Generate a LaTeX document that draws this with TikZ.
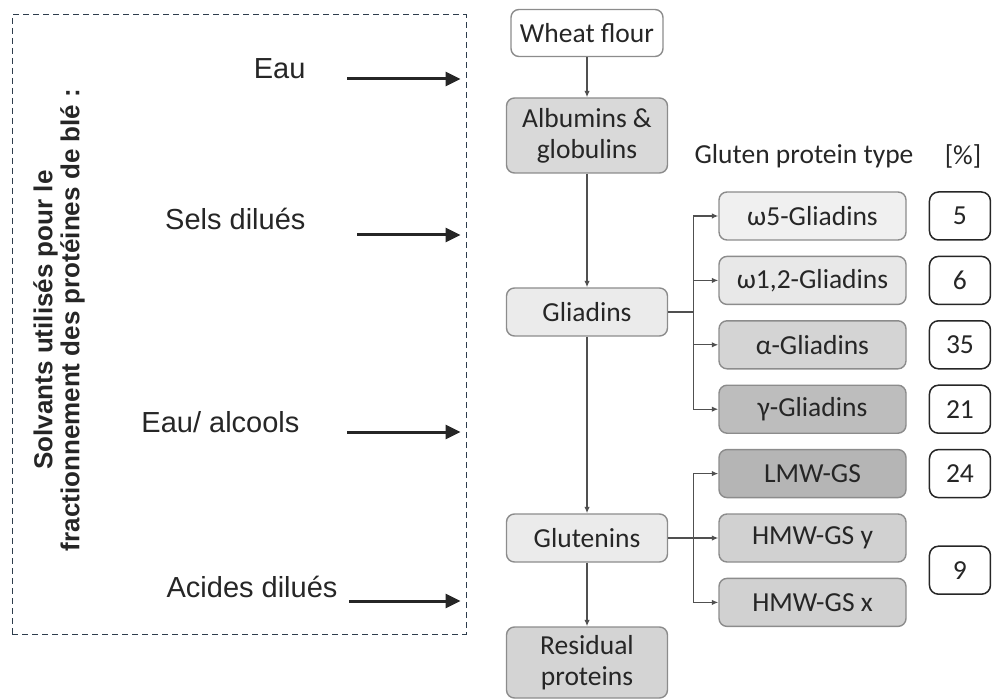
\documentclass[tikz,border=0pt]{standalone}
\usepackage{fontspec}
\setmainfont{Carlito}
\newfontfamily\arialfont{Liberation Sans}
\usetikzlibrary{arrows.meta, positioning, calc}

\definecolor{framecol}{RGB}{45,60,75}
\definecolor{linecol}{RGB}{80,80,80}

\begin{document}
\begin{tikzpicture}[x=1pt, y=-1pt,
  box/.style={rectangle, draw=black!45, line width=1.4pt, rounded corners=8pt, minimum width=161pt, minimum height=48pt, inner sep=2pt, align=center, text=black!85, font=\fontsize{27.5}{31}\selectfont},
  sub/.style={box, minimum width=187pt},
  pct/.style={rectangle, draw=black!85, line width=1.5pt, rounded corners=9pt, minimum width=61pt, minimum height=48pt, fill=white, text=black!85, font=\fontsize{27.5}{31}\selectfont},
  flow/.style={-{Latex[length=6.5pt,width=5.5pt]}, draw=linecol, line width=1.3pt},
  solv/.style={-{Triangle[length=15pt,width=14pt]}, line width=3pt, draw=black!85, shorten >=6pt},
  lab/.style={anchor=base east, text=black!85, font=\arialfont\fontsize{29}{32}\selectfont}]

\useasboundingbox (0,0) rectangle (992,700);

% left frame with solvents
\node[draw=framecol, dashed, dash pattern=on 6pt off 4pt, line width=1pt, inner sep=0pt, minimum width=454pt, minimum height=619pt] (frame) at (239,324.5) {};
\node[rotate=90, align=center, text=black!85, font=\arialfont\bfseries\fontsize{26}{27}\selectfont] (title) at (59,320) {Solvants utilisés pour le\\fractionnement des protéines de blé :};

\node[lab] (eau) at (309,79) {Eau};
\node[lab] (sels) at (309,230) {Sels dilués};
\node[lab] (alc) at (303,432) {Eau/ alcools};
\node[lab] (acid) at (341,597) {Acides dilués};

\coordinate (s1) at (347,79);
\coordinate (s2) at (357,235);
\coordinate (s3) at (347,432);
\coordinate (s4) at (349,601);
\draw[solv] (s1) -- (s1 -| frame.east);
\draw[solv] (s2) -- (s2 -| frame.east);
\draw[solv] (s3) -- (s3 -| frame.east);
\draw[solv] (s4) -- (s4 -| frame.east);

% fractionation scheme
\node[box, fill=white, minimum width=152pt, minimum height=47pt] (wheat) at (587,33) {Wheat flour};
\node[box, fill=black!15, minimum height=75pt] (alb) at (587,135.5) {Albumins \&\\globulins};
\node[box, fill=black!8] (glia) at (587,312) {Gliadins};

\node[sub, fill=black!6] (w5) at (812.5,216) {ω5-Gliadins};
\node[sub, fill=black!9, below=15pt of w5] (w12) {ω1,2-Gliadins};
\node[sub, fill=black!17, below=15pt of w12] (alpha) {α-Gliadins};
\node[sub, fill=black!26, below=15pt of alpha] (gamma) {γ-Gliadins};
\node[sub, fill=black!29, below=15pt of gamma] (lmw) {LMW-GS};
\node[sub, fill=black!18, below=15pt of lmw] (hy) {HMW-GS y};
\node[sub, fill=black!18, below=15pt of hy] (hx) {HMW-GS x};

\node[box, fill=black!8] (glut) at (glia |- hy) {Glutenins};
\node[box, fill=black!17, minimum height=71pt] (resid) at (587,662.5) {Residual\\proteins};

\node[pct, right=22pt of w5] (p5) {5};
\node[pct, right=22pt of w12] (p6) {6};
\node[pct, right=22pt of alpha] (p35) {35};
\node[pct, right=22pt of gamma] (p21) {21};
\node[pct, right=22pt of lmw] (p24) {24};
\coordinate (hmid) at ($(hy)!0.5!(hx)$);
\node[pct] (p9) at (p24 |- hmid) {9};

\node[text=black!85, font=\fontsize{27.5}{31}\selectfont] (hdr) at (804,156) {Gluten protein type};
\node[text=black!85, font=\fontsize{27.5}{31}\selectfont] (hpct) at (963,156) {[\%]};

\draw[flow] (wheat) -- (alb);
\draw[flow] (alb) -- (glia);
\draw[flow] (glia) -- (glut);
\draw[flow] (glut) -- (resid);

\draw[flow] (glia.east) -- ++(25,0) |- (w5.west);
\draw[flow] (glia.east) -- ++(25,0) |- (w12.west);
\draw[flow] (glia.east) -- ++(25,0) |- (alpha.west);
\draw[flow] (glia.east) -- ++(25,0) |- (gamma.west);

\draw[flow] (glut.east) -- ++(25,0) |- (lmw.west);
\draw[flow] (glut) -- (hy);
\draw[flow] (glut.east) -- ++(25,0) |- (hx.west);

\end{tikzpicture}
\end{document}
